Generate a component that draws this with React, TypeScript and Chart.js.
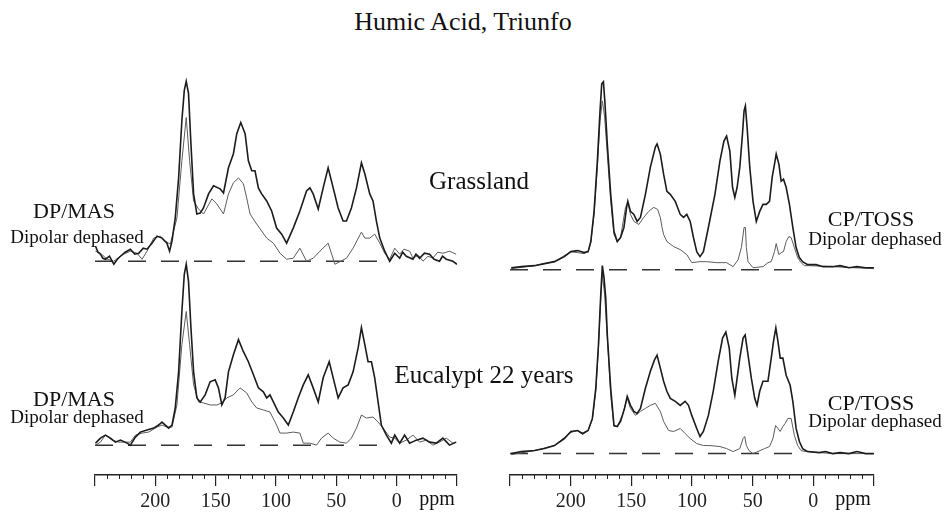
import React, { useEffect, useRef } from "react";
import { Chart, registerables } from "chart.js";

Chart.register(...registerables);

const SERIF = "'Liberation Serif', 'Times New Roman', Times, serif";

// ---- data: [ppm, intensity] ----
const tickValues = [200, 150, 100, 50, 0];

const dpGrassFull: [number, number][] = [
  [249.6, 15], [247.5, 9], [245.5, 7], [243.5, 3], [241.3, 2], [238, 5], [234.4, -3], [231.5, 2], [228.9, 5], [225, 9], [220.7, 12], [217, 7], [213.8, 8], [210, 13], [206.9, 12],
  [202.8, 18], [198.6, 25], [194.5, 23], [190.4, 18], [188.2, 10], [186.2, 20], [183.5, 43], [180.7, 83], [178.0, 140], [176.0, 170],
  [174.4, 179], [172.5, 167], [170.5, 117], [168.3, 67], [165.6, 47], [162.8, 48], [160.1, 53], [155.9, 67], [151.8, 75], [146.3, 72],
  [143.5, 68], [139.4, 93], [135.3, 107], [132.5, 127], [129.2, 138], [125.6, 127], [122.9, 100], [120.1, 90], [117.4, 90], [114.6, 73],
  [111.9, 67], [107.7, 60], [103.6, 50], [99.5, 33], [95.3, 27], [91.2, 18], [85.7, 33], [80.2, 50], [74.7, 70], [71.9, 73],
  [69.2, 67], [65.0, 52], [60.9, 73], [56.8, 93], [52.6, 73], [48.5, 53], [44.4, 40], [41.6, 40], [37.5, 53], [33.3, 73],
  [29.2, 98], [26.4, 87], [22.3, 67], [19.6, 60], [16.8, 40], [14.0, 23], [9.9, 10], [5.8, 0], [1.6, 8], [-2.5, 3],
  [-5, 9], [-8.0, 5], [-13.5, 2], [-16, 7], [-19.0, 3], [-23, 8], [-27.3, 7], [-31, 2], [-35.5, 0], [-38, 5], [-41.1, 2], [-46.6, 0], [-50, -3],
];

const dpGrassDeph: [number, number][] = [
  [249.6, 10], [245.5, 8], [240.0, 2], [234.5, 0], [230, 4], [226.2, 7], [220.7, 10], [215.2, 8], [211.0, 2], [206.9, 10], [201.4, 23],
  [195.9, 25], [191.7, 20], [187.6, 17], [182.1, 43], [178.0, 100], [174.4, 143], [171.6, 100], [168.3, 60], [164.2, 52], [160.1, 47],
  [153.2, 62], [149.0, 57], [143.5, 47], [139.4, 67], [135.3, 78], [131.1, 83], [127.0, 77], [124.3, 63], [121.5, 47], [116.0, 37],
  [107.7, 23], [102.2, 18], [96.7, 8], [91.2, 2], [85.7, 3], [80.2, 13], [74.7, 0], [69.2, 3], [63.6, 10], [56.8, 18],
  [51.2, -3], [41.6, 3], [36.1, 13], [29.2, 29], [26.4, 23], [22.3, 23], [18.2, 27], [14.0, 18], [9.9, 8], [5.8, 2],
  [1.6, 13], [-2.5, 7], [-6, 12], [-10.8, 10], [-13.5, 3], [-18, 6], [-21.8, 0], [-26, 5], [-30.0, 3], [-34, 9], [-38.3, 8], [-43.8, 10], [-49.3, 7],
];

const dpEucFull: [number, number][] = [
  [249.6, 2], [245.5, 7], [241.3, 10], [237.2, 7], [233.1, 3], [228.9, 5], [223.4, 2], [220.7, 0], [216.5, 8], [212.4, 13],
  [206.9, 15], [201.4, 17], [197.3, 20], [194.5, 23], [191.7, 20], [189.0, 17], [186.2, 20], [183.5, 37], [180.7, 73], [178.0, 133],
  [176.0, 170], [174.4, 180], [172.5, 163], [170.5, 117], [168.3, 73], [165.6, 47], [162.8, 43], [158.7, 50], [154.6, 63], [150.4, 65],
  [147.7, 57], [144.9, 40], [142.2, 47], [139.4, 73], [135.3, 90], [131.1, 105], [127.0, 93], [122.9, 83], [118.7, 70], [114.6, 57],
  [110.5, 53], [107.7, 47], [105.0, 50], [102.2, 43], [98.1, 33], [93.9, 27], [89.8, 20], [85.7, 33], [81.6, 47], [77.4, 60],
  [73.3, 70], [69.2, 57], [65.0, 43], [60.9, 67], [55.9, 83], [52.6, 67], [48.5, 47], [44.4, 57], [40.2, 60], [36.1, 73],
  [31.9, 97], [29.2, 117], [26.4, 100], [23.7, 83], [20.9, 83], [18.2, 67], [15.4, 43], [12.7, 20], [8.5, 10], [4.4, 2],
  [1.6, 10], [-2.5, 2], [-6.6, 10], [-10.7, 2], [-16.3, 5], [-21.8, 7], [-27.3, 3], [-32.8, 2], [-38.3, 7], [-43.8, 0], [-49.3, 3],
];

const dpEucDeph: [number, number][] = [
  [249.6, 0], [245.5, 3], [241.3, 10], [235.8, 5], [230.3, 3], [226.2, 3], [220.7, 3], [216.5, 10], [211.0, 12], [205.5, 13],
  [198.6, 18], [194.5, 20], [190.4, 18], [186.2, 18], [182.1, 40], [178.0, 100], [174.4, 133], [171.6, 100], [168.3, 60], [164.2, 43],
  [160.1, 42], [154.6, 40], [149.0, 40], [144.9, 42], [140.8, 47], [135.3, 50], [129.8, 57], [124.3, 52], [120.1, 43], [116.0, 37],
  [110.5, 35], [105.0, 33], [99.5, 20], [96.7, 12], [91.2, 12], [85.7, 13], [80.2, 12], [77.4, 2], [71.9, 2], [66.4, 0],
  [62.3, 7], [56.8, 12], [52.6, 7], [47.1, 3], [41.6, 2], [37.5, 7], [33.3, 17], [29.2, 30], [25.1, 27], [19.6, 28],
  [15.4, 23], [11.3, 17], [5.8, 8], [1.6, 7], [-2.5, 2], [-8.0, 5], [-13.5, 10], [-19.0, 3], [-24.5, 5], [-30.0, 0],
  [-35.5, 3], [-41.1, 7], [-46.6, 2], [-49.3, 3],
];

const cpGrassFull: [number, number][] = [
  [249, 2], [240.7, 3], [229.8, 4], [221.6, 6], [213.4, 8], [205.2, 13], [199.8, 18], [194.3, 19], [188.9, 17], [185.6, 18],
  [183.4, 28], [180.7, 58], [178.0, 108], [175.8, 158], [174.4, 185], [173.0, 187], [171.7, 165], [169.8, 125], [167.0, 75], [164.3, 38],
  [161.6, 28], [158.9, 32], [156.1, 42], [153.9, 62], [152.9, 68], [150.7, 58], [147.9, 55], [145.2, 48], [142.5, 52], [138.4, 75],
  [134.3, 102], [130.2, 122], [128.8, 125], [126.1, 115], [123.4, 95], [120.7, 78], [117.9, 75], [113.8, 68], [109.7, 55], [107.0, 52],
  [104.3, 55], [101.5, 48], [98.8, 32], [96.1, 18], [93.4, 13], [90.6, 18], [86.5, 42], [81.1, 75], [77.0, 108], [73.7, 128],
  [71.5, 133], [68.8, 118], [66.6, 82], [64.7, 72], [62.8, 82], [60.6, 102], [58.4, 135], [57.1, 158], [56.0, 163], [54.6, 142],
  [52.4, 102], [49.7, 68], [47.0, 48], [44.2, 58], [41.5, 65], [38.8, 65], [36.1, 68], [33.9, 92], [32.0, 105], [30.6, 115],
  [28.4, 105], [26.5, 88], [24.6, 90], [22.4, 82], [19.7, 65], [16.9, 42], [14.2, 22], [11.5, 12], [8.8, 8], [4.7, 5],
  [-2.2, 5], [-8, 3], [-15.8, 3], [-22, 4], [-29.4, 2], [-36, 3], [-43.1, 2], [-49.9, 2],
];

const cpGrassDeph: [number, number][] = [
  [249, 1], [229.8, 4], [213.4, 8], [199.8, 18], [188.9, 16], [185.6, 18], [183.4, 27], [180.7, 55], [178.0, 102], [175.8, 148],
  [173.9, 168], [172.0, 152], [169.8, 115], [167.0, 68], [164.3, 35], [161.6, 28], [158.9, 32], [154.8, 62], [152.9, 67], [150.7, 55],
  [147.9, 48], [143.8, 45], [139.8, 52], [135.7, 58], [131.6, 62], [128.3, 60], [126.1, 52], [124.7, 42], [123.4, 35], [120.7, 28],
  [115.2, 23], [109.7, 20], [104.3, 15], [100.2, 7], [93.4, 8], [87.9, 8], [79.7, 7], [71.5, 7], [66.1, 3], [62.0, 10],
  [59.3, 22], [57.1, 42], [56.0, 42], [55.2, 22], [53.8, 8], [49.7, 2], [41.5, 3], [37.4, 7], [34.7, 8], [32.0, 18],
  [30.6, 26], [28.4, 15], [26.5, 17], [24.6, 18], [22.4, 28], [20.2, 33], [18.3, 32], [15.6, 22], [12.9, 12], [10.1, 7],
  [7.4, 4], [3.3, 4], [-15.8, 3], [-49.9, 1],
];

const cpEucFull: [number, number][] = [
  [248.9, 0], [240.7, 2], [229.8, 3], [221.6, 5], [213.4, 8], [205.2, 15], [199.8, 22], [194.3, 23], [190.2, 20], [185.6, 23],
  [182.1, 35], [179.3, 65], [177.1, 108], [175.2, 158], [173.9, 187], [172.5, 175], [171.1, 155], [169.8, 118], [167.0, 65], [164.3, 28],
  [161.6, 27], [158.9, 32], [155.6, 45], [153.4, 57], [150.7, 48], [147.9, 42], [145.2, 40], [142.5, 45], [138.4, 65], [134.3, 82],
  [131.0, 93], [128.8, 98], [126.1, 85], [123.4, 72], [120.7, 62], [117.9, 55], [113.8, 52], [109.7, 48], [105.7, 52], [102.9, 48],
  [100.2, 38], [96.1, 25], [93.4, 17], [90.6, 22], [86.5, 38], [82.5, 62], [78.4, 92], [74.8, 115], [72.1, 121], [69.3, 105],
  [67.2, 75], [64.7, 58], [62.8, 75], [60.6, 95], [57.9, 115], [56.2, 118], [53.8, 98], [51.1, 75], [48.3, 55], [46.4, 48],
  [44.2, 62], [41.5, 72], [37.4, 72], [34.7, 95], [32.8, 112], [30.9, 125], [29.2, 112], [27.3, 95], [25.1, 95], [22.4, 78],
  [19.1, 68], [16.9, 52], [14.2, 25], [11.5, 12], [8.8, 5], [4.7, 2], [-4.9, 1], [-10, 2], [-15.8, 0], [-22, 1], [-29.4, 0], [-36, 2], [-43.1, 0], [-49.9, 0],
];

const cpEucDeph: [number, number][] = [
  [248.9, -1], [229.8, 3], [213.4, 8], [199.8, 21], [194.3, 23], [190.2, 19], [185.6, 23], [182.1, 34], [179.3, 62], [177.1, 105],
  [175.2, 155], [173.9, 178], [172.0, 158], [169.8, 115], [167.0, 58], [164.3, 27], [161.6, 27], [157.5, 38], [153.4, 55], [150.7, 45],
  [146.6, 38], [142.5, 42], [138.4, 45], [134.3, 48], [130.2, 50], [126.1, 42], [123.4, 32], [119.3, 23], [115.2, 22], [109.7, 25],
  [105.7, 20], [101.5, 15], [96.1, 10], [90.6, 8], [85.2, 8], [77.0, 7], [71.5, 5], [66.1, 2], [60.6, 5], [57.9, 15],
  [56.5, 17], [55.2, 8], [53.0, 3], [49.7, 0], [40.1, 5], [36.1, 7], [33.3, 15], [31.1, 28], [29.2, 25], [27.3, 22],
  [25.1, 27], [23.2, 30], [21.0, 35], [18.3, 35], [15.6, 18], [12.9, 8], [10.1, 3], [6.0, 2], [-15.8, 0], [-49.9, 0],
];

// vertical stacking offset of the upper spectrum (intensity units)
const STACK_OFFSET = 183;
const BASELINE_RANGE = [250, 15];

const minorTicks = {
  id: "minorTicks",
  afterDraw(chart: any) {
    const xs = chart.scales.x;
    const ctx = chart.ctx;
    const y0 = chart.chartArea.bottom;
    ctx.save();
    ctx.strokeStyle = "#222";
    ctx.lineWidth = 1;
    for (let v = -40; v < 250; v += 10) {
      if (v % 50 === 0) continue;
      const px = Math.round(xs.getPixelForValue(v)) + 0.5;
      ctx.beginPath();
      ctx.moveTo(px, y0);
      ctx.lineTo(px, y0 + 4);
      ctx.stroke();
    }
    ctx.restore();
  },
};

function toXY(arr: [number, number][], off: number) {
  return arr.map(([x, y]) => ({ x, y: y + off }));
}

function lineDs(arr: [number, number][], off: number, color: string, width: number) {
  return {
    data: toXY(arr, off),
    borderColor: color,
    borderWidth: width,
    pointRadius: 0,
    tension: 0,
    fill: false,
  };
}

function baseDs(off: number) {
  return {
    data: BASELINE_RANGE.map((x) => ({ x, y: off })),
    borderColor: "#333",
    borderWidth: 1.5,
    borderDash: [18, 15],
    pointRadius: 0,
    fill: false,
  };
}

type PanelProps = {
  left: number;
  top: number;
  width: number;
  height: number;
  yMin: number;
  yMax: number;
  upFull: [number, number][];
  upDeph: [number, number][];
  lowFull: [number, number][];
  lowDeph: [number, number][];
};

function Panel(p: PanelProps) {
  const ref = useRef<HTMLCanvasElement | null>(null);
  useEffect(() => {
    if (!ref.current) return;
    const chart = new Chart(ref.current, {
      type: "line",
      data: {
        datasets: [
          lineDs(p.upFull, STACK_OFFSET, "#1c1c1c", 1.6),
          lineDs(p.lowFull, 0, "#1c1c1c", 1.6),
          lineDs(p.upDeph, STACK_OFFSET, "#5c5c5c", 1),
          lineDs(p.lowDeph, 0, "#5c5c5c", 1),
          baseDs(STACK_OFFSET),
          baseDs(0),
        ] as any,
      },
      options: {
        animation: false,
        responsive: false,
        maintainAspectRatio: false,
        layout: { padding: { left: 10, right: 10, top: 10, bottom: 2 } },
        plugins: {
          legend: { display: false },
          tooltip: { enabled: false },
          title: { display: false },
        },
        scales: {
          x: {
            type: "linear",
            reverse: true,
            min: -50,
            max: 250,
            ticks: {
              stepSize: 50,
              autoSkip: false,
              maxRotation: 0,
              padding: 4,
              color: "#222",
              font: { family: SERIF, size: 20 },
              callback: (v: any) => (tickValues.includes(Number(v)) ? String(v) : ""),
            },
            grid: { drawOnChartArea: false, drawTicks: true, tickLength: 11, color: "#222", lineWidth: 1.2 },
            border: { display: true, color: "#222", width: 1.5 },
          },
          y: { type: "linear", display: false, min: p.yMin, max: p.yMax },
        },
      } as any,
      plugins: [minorTicks],
    });
    return () => chart.destroy();
  }, []);
  return (
    <canvas
      ref={ref}
      width={p.width}
      height={p.height}
      style={{ position: "absolute", left: p.left, top: p.top, width: p.width, height: p.height }}
    />
  );
}

function Label({ text, cx, baseline, size }: { text: string; cx: number; baseline: number; size: number }) {
  return (
    <div
      style={{
        position: "absolute",
        left: cx,
        top: baseline - 0.8375 * size,
        transform: "translateX(-50%)",
        fontFamily: SERIF,
        fontSize: size,
        lineHeight: 1,
        whiteSpace: "nowrap",
        color: "#111",
      }}
    >
      {text}
    </div>
  );
}

export default function App() {
  return (
    <div style={{ position: "absolute", left: 0, top: 0, width: 948, height: 513, background: "#fff", overflow: "hidden" }}>
      <Panel left={85} top={60} width={382} height={460} yMin={-29.7} yMax={373.3}
        upFull={dpGrassFull} upDeph={dpGrassDeph} lowFull={dpEucFull} lowDeph={dpEucDeph} />
      <Panel left={500} top={60} width={384} height={460} yMin={-21.3} yMax={381.7}
        upFull={cpGrassFull} upDeph={cpGrassDeph} lowFull={cpEucFull} lowDeph={cpEucDeph} />

      <Label text="Humic Acid, Triunfo" cx={463} baseline={30.5} size={26} />
      <Label text="Grassland" cx={479} baseline={189} size={25} />
      <Label text="Eucalypt 22 years" cx={484} baseline={383} size={25} />

      <Label text="DP/MAS" cx={74} baseline={218} size={22} />
      <Label text="Dipolar dephased" cx={77} baseline={242.5} size={19} />
      <Label text="DP/MAS" cx={74} baseline={406} size={22} />
      <Label text="Dipolar dephased" cx={77} baseline={423} size={19} />

      <Label text="CP/TOSS" cx={871} baseline={410} size={22} />
      <Label text="Dipolar dephased" cx={875} baseline={427} size={19} />
      <Label text="CP/TOSS" cx={871} baseline={226.5} size={22} />
      <Label text="Dipolar dephased" cx={875} baseline={245} size={19} />

      <Label text="ppm" cx={437} baseline={505} size={20} />
      <Label text="ppm" cx={853} baseline={505} size={20} />
    </div>
  );
}
